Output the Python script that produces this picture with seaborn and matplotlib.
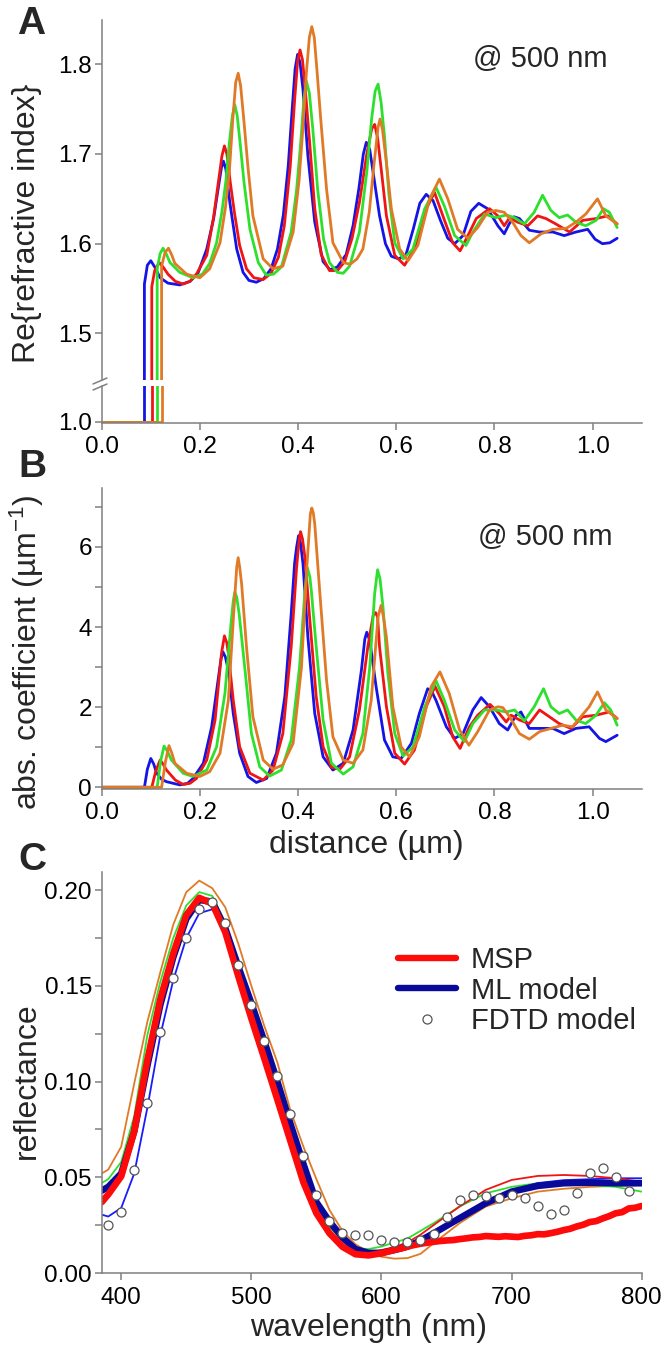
import matplotlib
matplotlib.use("Agg")
import matplotlib.pyplot as plt
import seaborn as sns
from matplotlib.lines import Line2D
from matplotlib.ticker import FixedLocator, FormatStrFormatter

# ---------------- data: panel A (real part of refractive index @ 500 nm) ----------------
a_blue_x = [0.000, 0.087, 0.087, 0.093, 0.100, 0.108, 0.119, 0.135, 0.159, 0.180, 0.196, 0.214, 0.228, 0.238, 0.244,
            0.248, 0.253, 0.261, 0.275, 0.288, 0.300, 0.315, 0.330, 0.345, 0.358, 0.370, 0.380, 0.388, 0.394, 0.399,
            0.404, 0.410, 0.420, 0.434, 0.451, 0.465, 0.480, 0.498, 0.512, 0.524, 0.533, 0.539, 0.546, 0.556, 0.566,
            0.578, 0.590, 0.605, 0.620, 0.635, 0.648, 0.661, 0.675, 0.690, 0.705, 0.719, 0.736, 0.752, 0.768, 0.786,
            0.807, 0.820, 0.830, 0.840, 0.851, 0.871, 0.892, 0.919, 0.942, 0.966, 0.990, 1.005, 1.020, 1.035, 1.050]
a_blue_y = [1.000, 1.000, 1.555, 1.576, 1.581, 1.574, 1.562, 1.556, 1.554, 1.558, 1.567, 1.594, 1.628, 1.664, 1.685,
            1.692, 1.683, 1.646, 1.594, 1.568, 1.559, 1.557, 1.561, 1.572, 1.594, 1.632, 1.687, 1.750, 1.795, 1.811,
            1.802, 1.772, 1.698, 1.624, 1.580, 1.571, 1.574, 1.588, 1.620, 1.662, 1.700, 1.713, 1.705, 1.668, 1.631,
            1.600, 1.586, 1.583, 1.588, 1.617, 1.645, 1.655, 1.648, 1.626, 1.606, 1.600, 1.609, 1.636, 1.645, 1.639,
            1.620, 1.611, 1.622, 1.630, 1.628, 1.615, 1.613, 1.613, 1.609, 1.613, 1.616, 1.605, 1.600, 1.601, 1.606]

a_red_x = [0.000, 0.102, 0.102, 0.108, 0.117, 0.125, 0.135, 0.150, 0.166, 0.180, 0.193, 0.214, 0.228, 0.238, 0.245,
           0.250, 0.255, 0.262, 0.270, 0.281, 0.295, 0.310, 0.329, 0.345, 0.360, 0.372, 0.384, 0.393, 0.399, 0.404,
           0.409, 0.415, 0.424, 0.434, 0.447, 0.464, 0.480, 0.495, 0.510, 0.525, 0.540, 0.550, 0.556, 0.562, 0.570,
           0.580, 0.597, 0.617, 0.637, 0.661, 0.678, 0.695, 0.715, 0.730, 0.746, 0.763, 0.790, 0.807, 0.820, 0.831,
           0.847, 0.868, 0.888, 0.905, 0.925, 0.953, 0.980, 1.007, 1.031, 1.050]
a_red_y = [1.000, 1.000, 1.552, 1.570, 1.579, 1.574, 1.566, 1.558, 1.555, 1.558, 1.566, 1.587, 1.630, 1.670, 1.698,
           1.709, 1.700, 1.668, 1.636, 1.598, 1.572, 1.562, 1.560, 1.567, 1.585, 1.620, 1.686, 1.760, 1.803, 1.816,
           1.805, 1.770, 1.710, 1.639, 1.588, 1.570, 1.570, 1.580, 1.606, 1.646, 1.700, 1.728, 1.733, 1.718, 1.680,
           1.631, 1.587, 1.576, 1.594, 1.639, 1.657, 1.631, 1.601, 1.592, 1.609, 1.628, 1.639, 1.631, 1.620, 1.629,
           1.624, 1.620, 1.631, 1.628, 1.622, 1.613, 1.626, 1.628, 1.631, 1.622]

a_green_x = [0.000, 0.113, 0.113, 0.119, 0.125, 0.132, 0.139, 0.159, 0.186, 0.205, 0.220, 0.234, 0.245, 0.253, 0.260,
             0.266, 0.271, 0.276, 0.282, 0.290, 0.302, 0.319, 0.335, 0.350, 0.366, 0.386, 0.397, 0.405, 0.412, 0.417,
             0.423, 0.430, 0.440, 0.452, 0.464, 0.480, 0.492, 0.505, 0.525, 0.540, 0.550, 0.557, 0.563, 0.569, 0.576,
             0.585, 0.597, 0.614, 0.634, 0.658, 0.681, 0.698, 0.719, 0.742, 0.756, 0.780, 0.803, 0.824, 0.841, 0.861,
             0.881, 0.898, 0.915, 0.932, 0.949, 0.966, 0.986, 1.007, 1.022, 1.034, 1.050]
a_green_y = [1.000, 1.000, 1.572, 1.589, 1.595, 1.588, 1.579, 1.568, 1.562, 1.566, 1.578, 1.601, 1.636, 1.670, 1.712,
             1.742, 1.755, 1.743, 1.712, 1.668, 1.616, 1.579, 1.565, 1.566, 1.574, 1.613, 1.660, 1.710, 1.762, 1.781,
             1.768, 1.728, 1.660, 1.605, 1.579, 1.568, 1.567, 1.575, 1.613, 1.680, 1.740, 1.770, 1.778, 1.758, 1.720,
             1.655, 1.601, 1.583, 1.594, 1.639, 1.663, 1.642, 1.609, 1.598, 1.613, 1.633, 1.629, 1.632, 1.629, 1.622,
             1.635, 1.654, 1.637, 1.629, 1.632, 1.624, 1.620, 1.626, 1.639, 1.635, 1.618]

a_orange_x = [0.000, 0.122, 0.122, 0.129, 0.136, 0.143, 0.149, 0.173, 0.200, 0.220, 0.241, 0.252, 0.260, 0.267, 0.273,
              0.278, 0.283, 0.290, 0.298, 0.308, 0.329, 0.349, 0.369, 0.390, 0.402, 0.410, 0.417, 0.423, 0.428, 0.433,
              0.439, 0.446, 0.458, 0.471, 0.492, 0.506, 0.520, 0.532, 0.545, 0.555, 0.563, 0.567, 0.572, 0.580, 0.590,
              0.607, 0.624, 0.644, 0.668, 0.688, 0.705, 0.725, 0.746, 0.766, 0.786, 0.803, 0.820, 0.837, 0.854, 0.871,
              0.895, 0.919, 0.946, 0.966, 0.986, 1.010, 1.027, 1.050]
a_orange_y = [1.000, 1.000, 1.575, 1.590, 1.595, 1.587, 1.578, 1.566, 1.562, 1.572, 1.601, 1.640, 1.680, 1.738, 1.780,
              1.790, 1.776, 1.735, 1.685, 1.631, 1.583, 1.572, 1.575, 1.613, 1.670, 1.730, 1.791, 1.830, 1.842, 1.830,
              1.790, 1.740, 1.661, 1.601, 1.579, 1.577, 1.583, 1.594, 1.635, 1.690, 1.730, 1.739, 1.727, 1.690, 1.639,
              1.594, 1.581, 1.598, 1.650, 1.672, 1.650, 1.616, 1.606, 1.618, 1.635, 1.637, 1.635, 1.624, 1.609, 1.601,
              1.611, 1.616, 1.617, 1.624, 1.633, 1.650, 1.631, 1.622]

# ---------------- data: panel B (absorption coefficient @ 500 nm) ----------------
b_blue_x = [0.000, 0.087, 0.093, 0.100, 0.106, 0.112, 0.122, 0.132, 0.159, 0.175, 0.186, 0.207, 0.224, 0.237, 0.243,
            0.247, 0.252, 0.258, 0.268, 0.281, 0.298, 0.315, 0.336, 0.356, 0.373, 0.386, 0.393, 0.397, 0.401, 0.405,
            0.410, 0.420, 0.434, 0.451, 0.471, 0.492, 0.512, 0.529, 0.536, 0.540, 0.546, 0.559, 0.576, 0.593, 0.610,
            0.631, 0.647, 0.664, 0.672, 0.681, 0.702, 0.719, 0.736, 0.756, 0.773, 0.790, 0.810, 0.827, 0.844, 0.854,
            0.871, 0.892, 0.919, 0.942, 0.966, 0.993, 1.014, 1.027, 1.050]
b_blue_y = [0.00, 0.00, 0.45, 0.72, 0.58, 0.35, 0.20, 0.14, 0.06, 0.10, 0.22, 0.60, 1.51, 2.67, 3.20,
            3.38, 3.25, 2.92, 1.84, 0.85, 0.27, 0.12, 0.22, 0.85, 2.26, 4.33, 5.60, 5.99, 6.28, 6.10,
            5.58, 3.75, 1.84, 0.76, 0.43, 0.60, 1.43, 2.92, 3.70, 3.87, 3.67, 2.51, 1.18, 0.76, 0.72,
            1.10, 1.84, 2.46, 2.40, 2.17, 1.51, 1.22, 1.34, 1.93, 2.24, 2.01, 1.59, 1.43, 1.80, 1.88,
            1.47, 1.47, 1.47, 1.34, 1.47, 1.51, 1.22, 1.14, 1.30]

b_red_x = [0.000, 0.102, 0.110, 0.119, 0.125, 0.132, 0.150, 0.166, 0.180, 0.193, 0.214, 0.231, 0.244, 0.250, 0.255,
           0.258, 0.268, 0.281, 0.302, 0.329, 0.349, 0.369, 0.386, 0.397, 0.402, 0.405, 0.409, 0.414, 0.424, 0.437,
           0.451, 0.468, 0.485, 0.505, 0.525, 0.542, 0.553, 0.558, 0.562, 0.566, 0.580, 0.597, 0.617, 0.637, 0.661,
           0.679, 0.698, 0.715, 0.730, 0.749, 0.766, 0.791, 0.810, 0.824, 0.834, 0.851, 0.871, 0.892, 0.912, 0.932,
           0.956, 0.980, 1.007, 1.034, 1.050]
b_red_y = [0.00, 0.00, 0.40, 0.68, 0.58, 0.43, 0.18, 0.07, 0.10, 0.22, 0.68, 1.68, 3.34, 3.78, 3.60,
           3.34, 2.17, 1.01, 0.35, 0.18, 0.43, 1.34, 3.50, 5.49, 6.15, 6.38, 6.20, 5.74, 4.17, 2.26,
           1.01, 0.50, 0.45, 0.76, 1.93, 3.50, 4.29, 4.36, 4.25, 3.50, 2.01, 0.85, 0.58, 0.93, 2.01,
           2.52, 2.01, 1.26, 0.97, 1.51, 1.80, 2.07, 1.84, 1.63, 1.80, 1.68, 1.59, 1.93, 1.76, 1.59,
           1.47, 1.76, 1.80, 1.88, 1.72]

b_green_x = [0.000, 0.113, 0.120, 0.127, 0.134, 0.142, 0.166, 0.186, 0.214, 0.234, 0.251, 0.264, 0.268, 0.271, 0.275,
             0.280, 0.292, 0.305, 0.322, 0.342, 0.366, 0.386, 0.403, 0.414, 0.419, 0.424, 0.427, 0.437, 0.451, 0.468,
             0.492, 0.512, 0.532, 0.546, 0.556, 0.562, 0.567, 0.573, 0.583, 0.597, 0.614, 0.634, 0.658, 0.681, 0.698,
             0.719, 0.739, 0.756, 0.780, 0.803, 0.824, 0.841, 0.861, 0.881, 0.900, 0.915, 0.932, 0.949, 0.966, 0.986,
             1.007, 1.024, 1.037, 1.050]
b_green_y = [0.00, 0.00, 0.65, 1.03, 0.90, 0.68, 0.35, 0.27, 0.43, 1.01, 2.34, 4.17, 4.65, 4.87, 4.75,
             4.33, 2.92, 1.34, 0.51, 0.28, 0.43, 1.18, 3.00, 4.91, 5.48, 5.25, 4.91, 3.50, 1.68, 0.60,
             0.33, 0.51, 1.34, 3.00, 4.83, 5.43, 5.20, 4.50, 2.84, 1.34, 0.78, 1.01, 2.01, 2.66, 2.17,
             1.43, 1.14, 1.59, 1.93, 1.93, 1.88, 1.93, 1.66, 2.01, 2.46, 2.01, 1.84, 1.93, 1.68, 1.59,
             1.80, 2.11, 1.93, 1.55]

b_orange_x = [0.000, 0.122, 0.130, 0.137, 0.143, 0.149, 0.173, 0.200, 0.220, 0.241, 0.258, 0.268, 0.275, 0.278, 0.281,
              0.285, 0.295, 0.308, 0.329, 0.349, 0.369, 0.390, 0.407, 0.417, 0.425, 0.428, 0.431, 0.434, 0.444, 0.458,
              0.471, 0.492, 0.512, 0.532, 0.549, 0.563, 0.569, 0.574, 0.580, 0.593, 0.610, 0.627, 0.647, 0.671, 0.689,
              0.708, 0.729, 0.748, 0.766, 0.790, 0.807, 0.817, 0.831, 0.851, 0.871, 0.892, 0.915, 0.939, 0.959, 0.976,
              0.993, 1.010, 1.027, 1.050]
b_orange_y = [0.00, 0.00, 0.65, 1.04, 0.85, 0.60, 0.35, 0.27, 0.39, 0.85, 2.17, 4.17, 5.49, 5.73, 5.50,
              5.08, 3.50, 1.76, 0.68, 0.45, 0.56, 1.10, 3.00, 5.33, 6.82, 6.97, 6.85, 6.57, 4.91, 2.67,
              1.26, 0.68, 0.60, 0.93, 2.17, 4.25, 4.54, 4.25, 3.75, 2.01, 1.01, 0.76, 1.26, 2.51, 2.88,
              2.34, 1.43, 1.05, 1.39, 1.93, 2.01, 1.99, 1.76, 1.34, 1.20, 1.39, 1.47, 1.55, 1.51, 1.76,
              2.01, 2.38, 1.93, 1.72]

# ---------------- data: panel C (reflectance spectra) ----------------
wl_model = [385, 390, 400, 410, 420, 430, 440, 450, 460, 470, 480, 490, 500, 510, 520, 530, 540, 550, 560, 570,
            580, 590, 600, 610, 620, 630, 640, 660, 680, 700, 720, 740, 760, 780, 800]
ml_thick = [0.043, 0.045, 0.052, 0.074, 0.108, 0.140, 0.165, 0.185, 0.195, 0.194, 0.180, 0.160, 0.141, 0.121, 0.100,
            0.078, 0.057, 0.037, 0.027, 0.0185, 0.0125, 0.0105, 0.0105, 0.012, 0.0138, 0.017, 0.0207, 0.0286, 0.0364,
            0.0425, 0.0455, 0.0469, 0.0472, 0.0469, 0.0469]
red_thin = [0.039, 0.042, 0.051, 0.073, 0.108, 0.140, 0.165, 0.184, 0.194, 0.192, 0.177, 0.156, 0.133, 0.112, 0.091,
            0.070, 0.049, 0.033, 0.022, 0.015, 0.011, 0.0105, 0.012, 0.0135, 0.016, 0.020, 0.025, 0.0347, 0.0434,
            0.0486, 0.0507, 0.0512, 0.0507, 0.0495, 0.0477]
blue_thin = [0.0305, 0.0295, 0.034, 0.052, 0.086, 0.124, 0.153, 0.175, 0.188, 0.190, 0.181, 0.162, 0.142, 0.122, 0.101,
             0.079, 0.057, 0.038, 0.026, 0.018, 0.013, 0.011, 0.0115, 0.013, 0.015, 0.018, 0.021, 0.029, 0.037,
             0.043, 0.047, 0.0485, 0.049, 0.0495, 0.0495]
green_thin = [0.047, 0.049, 0.058, 0.082, 0.124, 0.152, 0.175, 0.192, 0.199, 0.197, 0.183, 0.163, 0.141, 0.119, 0.097,
              0.075, 0.053, 0.036, 0.024, 0.017, 0.013, 0.0125, 0.0138, 0.016, 0.018, 0.022, 0.026, 0.0347, 0.0416,
              0.045, 0.0469, 0.0469, 0.046, 0.045, 0.0425]
orange_thin = [0.052, 0.054, 0.066, 0.099, 0.131, 0.157, 0.182, 0.199, 0.205, 0.201, 0.191, 0.172, 0.150, 0.129, 0.110,
               0.085, 0.066, 0.049, 0.033, 0.022, 0.015, 0.011, 0.0085, 0.0075, 0.0078, 0.010, 0.0155, 0.026, 0.0347,
               0.039, 0.0425, 0.044, 0.045, 0.0455, 0.046]

msp_wl = [385, 390, 400, 410, 420, 430, 440, 450, 460, 470, 480, 490, 500, 510, 520, 530, 540, 550, 560, 570, 580, 590,
          600, 605, 610, 615, 620, 625, 630, 635, 640, 645, 650, 655, 660, 665, 670, 675, 680, 685, 690, 695, 700,
          705, 710, 715, 720, 725, 730, 735, 740, 745, 750, 755, 760, 765, 770, 775, 780, 785, 790, 795, 800]
msp_r = [0.037, 0.041, 0.0505, 0.074, 0.111, 0.143, 0.167, 0.187, 0.196, 0.193, 0.178, 0.155, 0.133, 0.112, 0.0906,
         0.069, 0.0474, 0.0312, 0.0208, 0.0137, 0.0098, 0.0092,
         0.0103, 0.0112, 0.0121, 0.0128, 0.0138, 0.0146, 0.0153, 0.0158, 0.0163, 0.0167, 0.0170, 0.0172, 0.0177,
         0.0181, 0.0186, 0.0188, 0.0193, 0.0191, 0.0189, 0.0192, 0.0190, 0.0188, 0.0194, 0.0197, 0.0203, 0.0202,
         0.0208, 0.0215, 0.0224, 0.0231, 0.0243, 0.0252, 0.0266, 0.0271, 0.0285, 0.0297, 0.0312, 0.0318, 0.0337,
         0.0341, 0.0350]

fdtd_wl = [390, 400, 410, 420, 430, 440, 450, 460, 470, 480, 490, 500, 510, 520, 530, 540, 550, 560, 570, 580, 590,
           600, 610, 620, 630, 640, 650, 660, 670, 680, 690, 700, 710, 720, 730, 740, 750, 760, 770, 780, 790]
fdtd_r = [0.025, 0.032, 0.054, 0.089, 0.126, 0.154, 0.175, 0.190, 0.194, 0.183, 0.161, 0.140, 0.121, 0.103, 0.083,
          0.061, 0.041, 0.027, 0.021, 0.020, 0.020, 0.017, 0.016, 0.016, 0.017, 0.0205, 0.029, 0.038, 0.041, 0.040,
          0.039, 0.0405, 0.039, 0.035, 0.031, 0.033, 0.042, 0.052, 0.055, 0.050, 0.043]

# ---------------- style ----------------
BLUE, RED, GREEN, ORANGE = "#1414e6", "#f01414", "#2ee02e", "#e07a26"
NAVY = "#0a0a9a"
GRAY = "#808080"

sns.set_style("ticks")
plt.rcParams["font.family"] = ["Liberation Sans", "DejaVu Sans"]
plt.rcParams["mathtext.default"] = "regular"

W, H = 670, 1351
fig = plt.figure(figsize=(W / 100, H / 100), dpi=100)


def box(left, top, right, bottom):
    return [left / W, 1 - bottom / H, (right - left) / W, (bottom - top) / H]


def style(ax, xticks=True):
    for s in ["top", "right"]:
        ax.spines[s].set_visible(False)
    for s in ["left", "bottom"]:
        ax.spines[s].set_color(GRAY)
        ax.spines[s].set_linewidth(1.1)
    ax.tick_params(which="both", direction="out", length=5, width=1.1, color=GRAY,
                   labelsize=17.5, labelcolor="black")
    ax.tick_params(axis="y", pad=2)
    ax.tick_params(axis="x", pad=5)
    if not xticks:
        ax.spines["bottom"].set_visible(False)
        ax.tick_params(axis="x", which="both", bottom=False, labelbottom=False)


def draw_curves(ax, curves, lw):
    for xs, ys, col in curves:
        sns.lineplot(x=xs, y=ys, color=col, lw=lw, estimator=None, sort=False, ax=ax)


L, R = 101.7, 641.7

# ---- panel A (broken y axis) ----
ax_at = fig.add_axes(box(L, 20, R, 380))
ax_ab = fig.add_axes(box(L, 386, R, 422.5))
curves_a = [(a_blue_x, a_blue_y, BLUE), (a_red_x, a_red_y, RED),
            (a_green_x, a_green_y, GREEN), (a_orange_x, a_orange_y, ORANGE)]
for ax in (ax_at, ax_ab):
    draw_curves(ax, curves_a, 2.0)
    ax.set_xlim(0, 1.1)
    ax.set_xlabel("")
    ax.set_ylabel("")
ax_at.set_ylim(1.448, 1.8494)
ax_ab.set_ylim(0.9994, 1.040)
style(ax_at, xticks=False)
style(ax_ab)
ax_at.yaxis.set_major_locator(FixedLocator([1.5, 1.6, 1.7, 1.8]))
ax_at.yaxis.set_major_formatter(FormatStrFormatter("%.1f"))
ax_ab.yaxis.set_major_locator(FixedLocator([1.0]))
ax_ab.yaxis.set_major_formatter(FormatStrFormatter("%.1f"))
ax_ab.xaxis.set_major_locator(FixedLocator([0.0, 0.2, 0.4, 0.6, 0.8, 1.0]))
ax_ab.xaxis.set_major_formatter(FormatStrFormatter("%.1f"))
# break marks on the y axis
for dy in (0, 6):
    fig.add_artist(Line2D([93 / W, 107 / W], [1 - (384 + dy) / H, 1 - (378 + dy) / H],
                          color=GRAY, lw=1.1))

# ---- panel B ----
ax_b = fig.add_axes(box(L, 488, R, 788.5))
draw_curves(ax_b, [(b_blue_x, b_blue_y, BLUE), (b_red_x, b_red_y, RED),
                   (b_green_x, b_green_y, GREEN), (b_orange_x, b_orange_y, ORANGE)], 2.0)
ax_b.set_xlim(0, 1.1)
ax_b.set_ylim(-0.03, 7.47)
style(ax_b)
ax_b.yaxis.set_major_locator(FixedLocator([0, 2, 4, 6]))
ax_b.yaxis.set_minor_locator(FixedLocator([1, 3, 5, 7]))
ax_b.xaxis.set_major_locator(FixedLocator([0.0, 0.2, 0.4, 0.6, 0.8, 1.0]))
ax_b.xaxis.set_major_formatter(FormatStrFormatter("%.1f"))
ax_b.set_xlabel("")
ax_b.set_ylabel("")

# ---- panel C ----
ax_c = fig.add_axes(box(L, 872, R, 1273))
draw_curves(ax_c, [(wl_model, orange_thin, ORANGE), (wl_model, green_thin, GREEN),
                   (wl_model, blue_thin, "#1a1aff"), (wl_model, red_thin, RED)], 1.3)
draw_curves(ax_c, [(wl_model, ml_thick, NAVY), (msp_wl, msp_r, "#ff0a0a")], 4.8)
sns.scatterplot(x=fdtd_wl, y=fdtd_r, marker="o", s=42, color="white", edgecolor="#555555",
                linewidth=0.9, zorder=5, ax=ax_c)
ax_c.set_xlim(385, 800)
ax_c.set_ylim(0, 0.2095)
style(ax_c)
ax_c.yaxis.set_major_locator(FixedLocator([0.0, 0.05, 0.10, 0.15, 0.20]))
ax_c.yaxis.set_minor_locator(FixedLocator([0.025, 0.075, 0.125, 0.175]))
ax_c.yaxis.set_major_formatter(FormatStrFormatter("%.2f"))
ax_c.xaxis.set_major_locator(FixedLocator([400, 500, 600, 700, 800]))
ax_c.set_xlabel("")
ax_c.set_ylabel("")

handles = [Line2D([], [], color="#ff0a0a", lw=4.6),
           Line2D([], [], color=NAVY, lw=4.6),
           Line2D([], [], ls="", marker="o", ms=6.5, mfc="white", mec="#555555", mew=0.9)]
ax_c.legend(handles, ["MSP", "ML model", "FDTD model"], loc="upper left",
            bbox_to_anchor=(398 / W, 1 - 946 / H), bbox_transform=fig.transFigure,
            frameon=False, fontsize=21, handlelength=2.0, handletextpad=0.5,
            labelspacing=0.09, borderpad=0, borderaxespad=0)

# ---- texts ----
def ftext(x, y, s, **kw):
    fig.text(x / W, 1 - y / H, s, **kw)


ftext(31, 24, "A", fontsize=28, weight="bold", ha="center", va="center")
ftext(32, 467, "B", fontsize=28, weight="bold", ha="center", va="center")
ftext(32, 860, "C", fontsize=28, weight="bold", ha="center", va="center")
ftext(473, 59, "@ 500 nm", fontsize=21, ha="left", va="center")
ftext(478, 537, "@ 500 nm", fontsize=21, ha="left", va="center")
ftext(27, 223, "Re{refractive index}", fontsize=23, rotation=90, ha="center", va="center")
ftext(27, 652, r"abs. coefficient (µm$^{-1}$)", fontsize=23, rotation=90, ha="center", va="center")
ftext(27, 1081, "reflectance", fontsize=23, rotation=90, ha="center", va="center")
ftext(366, 845, "distance (µm)", fontsize=23, ha="center", va="center")
ftext(369, 1328, "wavelength (nm)", fontsize=23, ha="center", va="center")

fig.savefig("out.png", dpi=100)
